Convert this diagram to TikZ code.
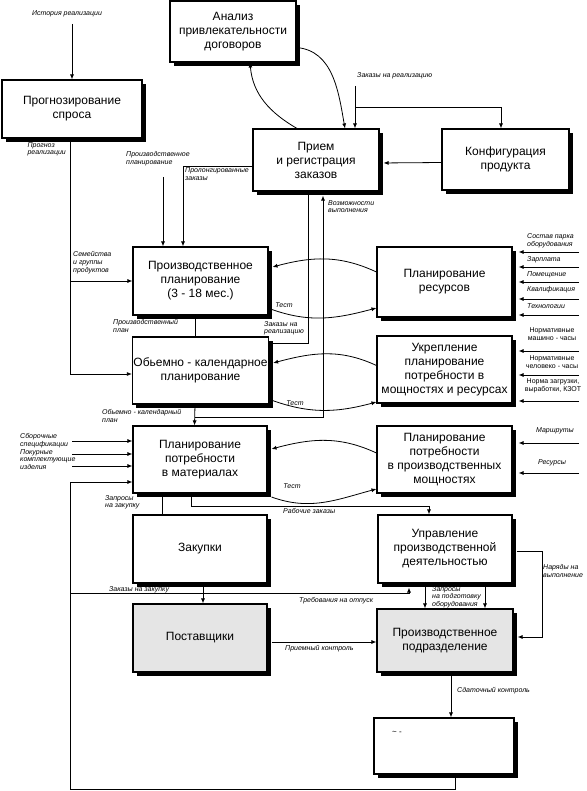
\documentclass[tikz,border=0pt]{standalone}
\usepackage{fontspec}
\setmainfont{Liberation Sans}
\usetikzlibrary{arrows.meta, shadows}
\tikzset{
  blok/.style={draw, line width=1.1pt, fill=white, align=center, inner sep=1pt, font=\fontsize{12}{14}\selectfont,
    drop shadow={shadow xshift=4pt, shadow yshift=-4pt, fill=black, opacity=1}},
  blokgray/.style={blok, fill=black!10},
  lbl/.style={font=\fontsize{7}{7.8}\selectfont\itshape, inner sep=0pt, align=left},
  lblc/.style={font=\fontsize{7}{7.8}\selectfont, inner sep=0pt, align=center},
  conn/.style={line width=0.8pt},
}

\begin{document}
\begin{tikzpicture}[>={Latex[length=5pt,width=4pt]}, x=1pt, y=-1pt]
    \useasboundingbox[fill=white] (0,0) rectangle (586,791);

    % Boxes
    \node[blok, minimum width=126pt, minimum height=61pt] (anal) at (233,31.5) {Анализ\\привлекательности\\договоров};
    \node[blok, minimum width=140pt, minimum height=58pt] (prog) at (72,109) {Прогнозирование\\спроса};
    \node[blok, minimum width=126pt, minimum height=62pt] (priem) at (316,160) {Прием\\и регистрация\\заказов};
    \node[blok, minimum width=127pt, minimum height=61pt] (konf) at (505.5,159.5) {Конфигурация\\продукта};
    \node[blok, minimum width=135pt, minimum height=68pt] (pplan) at (200.5,281) {Производственное\\планирование\\(3 - 18 мес.)};
    \node[blok, minimum width=135pt, minimum height=67pt] (okp) at (200.5,370.5) {Обьемно - календарное\\планирование};
    \node[blok, minimum width=135pt, minimum height=70pt] (resp) at (444.5,282) {Планирование\\ресурсов};
    \node[blok, minimum width=135pt, minimum height=67pt] (ukr) at (444.5,369.5) {Укрепление\\планирование\\потребности в\\мощностях и ресурсах};
    \node[blok, minimum width=134pt, minimum height=67pt] (pmat) at (200,459.5) {Планирование\\потребности\\в материалах};
    \node[blok, minimum width=135pt, minimum height=67pt] (pmosh) at (444.5,459.5) {Планирование\\потребности\\в производственных\\мощностях};
    \node[blok, minimum width=134pt, minimum height=68pt] (zak) at (200,549) {Закупки};
    \node[blok, minimum width=134pt, minimum height=68pt] (upr) at (445,549) {Управление\\производственной\\деятельностью};
    \node[blokgray, minimum width=134pt, minimum height=68pt] (post) at (200,638) {Поставщики};
    \node[blokgray, minimum width=136pt, minimum height=63pt] (ppod) at (445,640.5) {Производственное\\подразделение};
    \node[blok, minimum width=140pt, minimum height=56pt] (fin) at (444,746) {};
    \node[font=\fontsize{8}{8}\selectfont, inner sep=0pt] (finTxt) at (397,733) {\textasciitilde{} -};

    % Free ends
    \coordinate (histIn) at (72,24);
    \coordinate (ppIn) at (163,177);
    \coordinate (zakIn) at (355,86);
    \coordinate (zakBr) at (355,107);
    \coordinate (okBr) at (195,417);
    \coordinate (loopC) at (70,789);
    \coordinate (trebBr) at (70,593);
    \coordinate (rin1) at (579,252);
    \coordinate (rin2) at (579,267);
    \coordinate (rin3) at (579,282);
    \coordinate (rin4) at (579,299);
    \coordinate (rin5) at (579,315);
    \coordinate (uin1) at (579,351);
    \coordinate (uin2) at (579,375);
    \coordinate (uin3) at (579,401);
    \coordinate (min1) at (579,443);
    \coordinate (min2) at (579,473);
    \coordinate (lin1) at (72,441);
    \coordinate (lin2) at (72,454);
    \coordinate (lin3) at (72,466);

    % Top part
    \draw[conn,->] (histIn) -- (prog.north);
    \draw[conn,->] ([xshift=-2pt]prog.south) |- ([yshift=-3.5pt]okp.west);
    \draw[conn,->] ([xshift=-2pt]prog.south |- pplan.west) -- (pplan.west);
    \draw[conn,->] (ppIn) -- (ppIn |- pplan.north);
    \draw[conn,->] ([yshift=-6pt]priem.west) -| ([xshift=-17.5pt]pplan.north);
    \draw[conn,->] ([xshift=-19pt]priem.north) to[out=150,in=-85] ([xshift=17pt]anal.south);
    \draw[conn,->] ([yshift=-16pt]anal.east) to[out=-5,in=100] ([xshift=29pt]priem.north);
    \draw[conn,->] (zakIn) -- (zakIn |- priem.north);
    \draw[conn,->] (zakBr) -| ([xshift=-4.5pt]konf.north);
    \draw[conn,->, shorten >=4pt] ([yshift=-3pt]konf.west) -- ([yshift=-3pt]priem.east);

    % Middle part
    \draw[conn] ([xshift=-8pt]priem.south) |- ([xshift=4pt,yshift=27.5pt]okp.east);
    \draw[conn] ([xshift=-5.5pt]pplan.south) -- ([xshift=-5.5pt]okp.north);
    \draw[conn,->] ([xshift=-5.5pt]okp.south) -- ([xshift=-5.5pt]pmat.north);
    \draw[conn,->, shorten >=4pt] (okBr) -| ([xshift=7pt]priem.south);
    \draw[conn,->] ([yshift=10pt]resp.west) to[out=155,in=15] ([xshift=4pt,yshift=14pt]pplan.east);
    \draw[conn,->] ([xshift=2pt,yshift=-28pt]pplan.east) to[out=-20,in=195] ([yshift=-26pt]resp.west);
    \draw[conn,->] ([yshift=4pt]ukr.west) to[out=155,in=15] ([xshift=4pt,yshift=7.5pt]okp.east);
    \draw[conn,->] ([xshift=2pt,yshift=-29.5pt]okp.east) to[out=-20,in=195] ([yshift=-32.5pt]ukr.west);
    \draw[conn,->] ([yshift=6.5pt]pmosh.west) to[out=155,in=15] ([xshift=4pt,yshift=10.5pt]pmat.east);
    \draw[conn,->] ([xshift=4pt,yshift=-37.5pt]pmat.east) to[out=-20,in=195] ([yshift=-29.5pt]pmosh.west);

    % Inputs on the right and left
    \draw[conn,->, shorten >=6pt] (rin1) -- (rin1 -| resp.east);
    \draw[conn,->, shorten >=6pt] (rin2) -- (rin2 -| resp.east);
    \draw[conn,->, shorten >=6pt] (rin3) -- (rin3 -| resp.east);
    \draw[conn,->, shorten >=6pt] (rin4) -- (rin4 -| resp.east);
    \draw[conn,->, shorten >=6pt] (rin5) -- (rin5 -| resp.east);
    \draw[conn,->, shorten >=6pt] (uin1) -- (uin1 -| ukr.east);
    \draw[conn,->, shorten >=6pt] (uin2) -- (uin2 -| ukr.east);
    \draw[conn,->, shorten >=6pt] (uin3) -- (uin3 -| ukr.east);
    \draw[conn,->, shorten >=6pt] (min1) -- (min1 -| pmosh.east);
    \draw[conn,->, shorten >=6pt] (min2) -- (min2 -| pmosh.east);
    \draw[conn,->] (lin1) -- (lin1 -| pmat.west);
    \draw[conn,->] (lin2) -- (lin2 -| pmat.west);
    \draw[conn,->] (lin3) -- (lin3 -| pmat.west);

    % Bottom part
    \draw[conn] ([xshift=-38pt]pmat.south) -- ([xshift=-38pt]zak.north);
    \draw[conn,->] ([xshift=-9pt]pmat.south) -- ++(0,13) -| ([xshift=-16pt]upr.north);
    \draw[conn,->] ([xshift=3pt]zak.south) -- ([xshift=3pt]post.north);
    \draw[conn,->] ([xshift=11pt]fin.south) |- (loopC) |- ([yshift=-22.5pt]pmat.west);
    \draw[conn,->, shorten >=4pt] (trebBr) -| ([xshift=-36pt]upr.south);
    \draw[conn,->] ([xshift=-20pt]upr.south) -- ([xshift=-20pt]ppod.north);
    \draw[conn,->] ([xshift=40pt]upr.south) -- ([xshift=40pt]ppod.north);
    \draw[conn,->, shorten <=4pt, shorten >=4pt] ([yshift=-2pt]upr.east) -- ++(30,0) |- ([yshift=3.5pt]ppod.east);
    \draw[conn,->, shorten <=4pt] ([yshift=-4pt]post.east) -- ([yshift=-4pt]post.east -| ppod.west);
    \draw[conn,->] ([xshift=6pt]ppod.south) -- ([xshift=6pt]ppod.south |- fin.north);

    % Labels
    \node[lbl] (lHist) at (67,14) {История реализации};
    \node[lbl, anchor=north east] (lProgn) at (66,142) {Прогноз\\реализации};
    \node[lbl, anchor=south west] (lSem) at (73,274) {Семейства\\и группы\\продуктов};
    \node[lbl, anchor=north west] (lPpl) at (126,151) {Производственное\\планирование};
    \node[lbl, anchor=north west] (lProl) at (185,167.5) {Пролонгированные\\заказы};
    \node[lbl, anchor=west] (lZakR) at (357,76) {Заказы на реализацию};
    \node[lbl, anchor=north west] (lVozm) at (328,200) {Возможности\\выполнения};
    \node[lbl, anchor=north west] (lZakR2) at (264,321) {Заказы на\\реализацию};
    \node[lbl] (lTest1) at (284,305) {Тест};
    \node[lbl] (lTest2) at (295,403) {Тест};
    \node[lbl] (lTest3) at (292,486) {Тест};
    \node[lbl, anchor=north west] (lPplan) at (113,319) {Производственный\\план};
    \node[lbl, anchor=north west] (lOkp) at (102,409) {Обьемно - календарный\\план};
    \node[lbl, anchor=south west] (lR1) at (527,248) {Состав парка\\оборудования};
    \node[lbl, anchor=south west] (lR2) at (527,263) {Зарплата};
    \node[lbl, anchor=south west] (lR3) at (527,278) {Помещение};
    \node[lbl, anchor=south west] (lR4) at (527,293) {Квалификация};
    \node[lbl, anchor=south west] (lR5) at (527,309) {Технологии};
    \node[lblc] (lU1) at (552,334) {Нормативные\\машино - часы};
    \node[lblc] (lU2) at (552,362) {Нормативные\\человеко - часы};
    \node[lblc] (lU3) at (553,386) {Норма загрузки,\\выработки, КЗОТ};
    \node[lbl] (lM1) at (555,431) {Маршруты};
    \node[lbl] (lM2) at (552,463) {Ресурсы};
    \node[lbl, anchor=west] (lL1) at (20,441) {Сборочные\\спецификации};
    \node[lbl, anchor=north west] (lL2) at (20,449) {Покурные\\комплектующие\\изделия};
    \node[lbl, anchor=north west] (lZapr) at (105,495) {Запросы\\на закупку};
    \node[lbl, anchor=west] (lRab) at (283,511) {Рабочие заказы};
    \node[lbl, anchor=base west] (lZakZ) at (109,591) {Заказы на закупку};
    \node[lbl, anchor=north west] (lTreb) at (299,597) {Требования на отпуск};
    \node[lbl, anchor=north west] (lZapPod) at (432,586) {Запросы\\на подготовку\\оборудования};
    \node[lbl, anchor=north west] (lNar) at (543,564) {Наряды на\\выполнение};
    \node[lbl, anchor=north west] (lPriemK) at (285,645) {Приемный контроль};
    \node[lbl, anchor=west] (lSdat) at (457,691) {Сдаточный контроль};
\end{tikzpicture}
\end{document}
